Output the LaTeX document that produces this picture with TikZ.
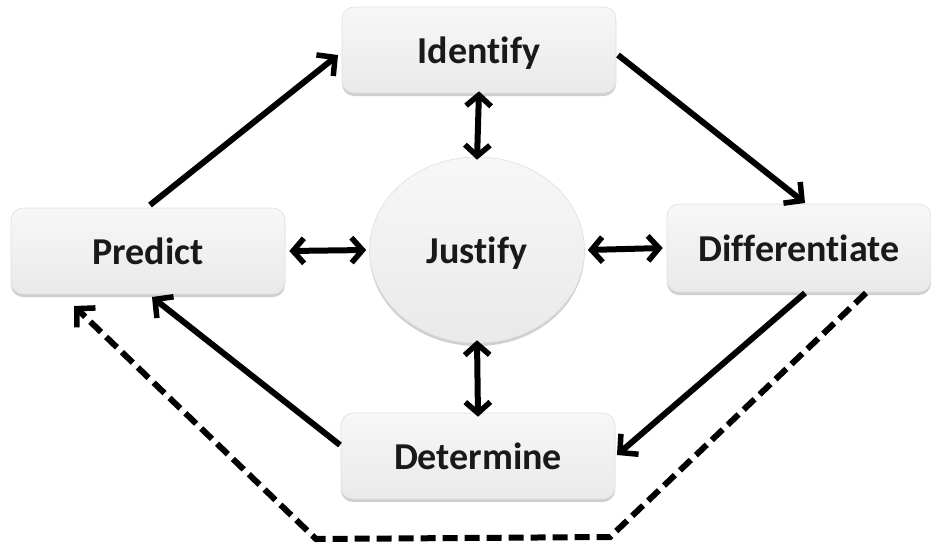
\documentclass[tikz,border=0pt]{standalone}
\usepackage{fontspec}
\setmainfont{Carlito}[Ligatures=NoCommon]
\usetikzlibrary{arrows.meta,shadows,shapes.geometric}
\tikzset{
  boxnode/.style={rectangle, rounded corners=12pt, minimum width=274pt, minimum height=86pt,
    top color=gray!6, bottom color=gray!17, draw=gray!25, line width=0.6pt,
    drop shadow={shadow xshift=0pt, shadow yshift=-3pt, opacity=0.5, fill=gray!75},
    font=\fontsize{38}{44}\selectfont\bfseries, text=black!90, text depth=0pt},
  circnode/.style={ellipse, minimum width=215pt, minimum height=186pt, inner sep=0pt,
    top color=gray!6, bottom color=gray!17, draw=gray!25, line width=0.6pt,
    drop shadow={shadow xshift=0pt, shadow yshift=-3pt, opacity=0.5, fill=gray!75},
    font=\fontsize{38}{44}\selectfont\bfseries, text=black!90, text depth=0pt},
  flow/.style={line width=6pt, -{Straight Barb[length=13pt,width=27pt,line width=5.5pt]}},
  dflow/.style={line width=6pt, {Straight Barb[length=11pt,width=25pt,line width=5.5pt]}-{Straight Barb[length=11pt,width=25pt,line width=5.5pt]}},
  dashflow/.style={line width=6pt, dash pattern=on 15pt off 7pt, line join=miter, -{Straight Barb[length=13pt,width=27pt,line width=5.5pt]}}
}
\begin{document}
\begin{tikzpicture}[x=1pt,y=-1pt]
\useasboundingbox (0,0) rectangle (931,544);
\node[boxnode] (identify) at (479,50) {Identify};
\node[boxnode] (predict) at (148,251) {Predict};
\node[boxnode, minimum width=264pt, minimum height=88pt] (diff) at (799,248) {Differentiate};
\node[boxnode] (determine) at (478,456) {Determine};
\node[circnode] (justify) at (477,250) {Justify};

\coordinate (a1) at (150,205);
\coordinate (a2) at (338,55);
\coordinate (b1) at (618,55);
\coordinate (b2) at (805,203);
\coordinate (c1) at (805,293);
\coordinate (c2) at (617,455);
\coordinate (d1) at (340,445);
\coordinate (d2) at (152,297);
\draw[flow] (a1) -- (a2);
\draw[flow] (b1) -- (b2);
\draw[flow] (c1) -- (c2);
\draw[flow] (d1) -- (d2);

\coordinate (e1) at (866,293);
\coordinate (e2) at (610,537);
\coordinate (e3) at (316,539);
\coordinate (e4) at (74,306);
\draw[dashflow] (e1) -- (e2) -- (e3) -- (e4);

\draw[dflow] ([yshift=2pt]identify.south) -- ([yshift=-3pt]justify.north);
\draw[dflow] ([xshift=4pt]predict.east) -- ([xshift=-3pt]justify.west);
\draw[dflow] ([xshift=3pt]justify.east) -- ([xshift=-4pt]diff.west);
\draw[dflow] ([yshift=3pt]justify.south) -- ([yshift=-4pt]determine.north);
\end{tikzpicture}
\end{document}
